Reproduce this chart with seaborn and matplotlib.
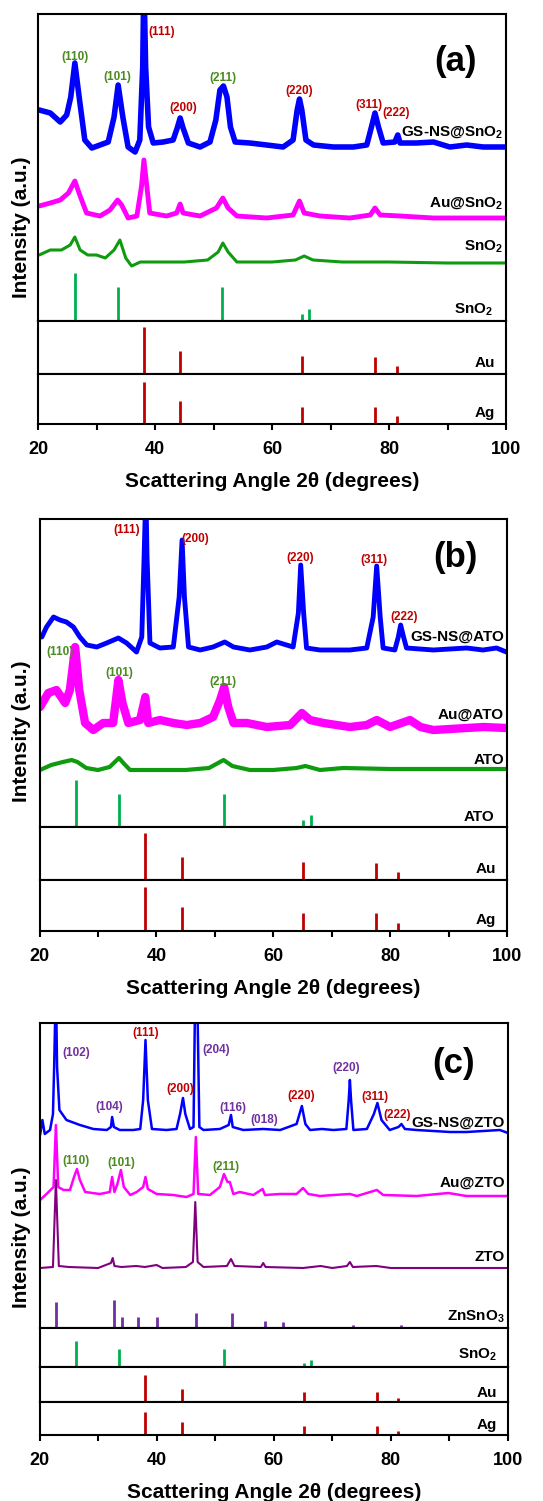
import numpy as np
import pandas as pd
import seaborn as sns
import matplotlib.pyplot as plt

# ---- reference stick patterns (2theta, relative intensity) ----
sno2_pos = [26.3, 33.6, 51.5, 65.1, 66.4]
sno2_int = [100, 70, 70, 15, 26]
au_pos = [38.1, 44.3, 65.1, 77.6, 81.3]
au_int = [100, 50, 38, 37, 16]
ag_pos = [38.1, 44.3, 65.1, 77.6, 81.3]
ag_int = [100, 55, 41, 41, 19]
znsno3_pos = [22.8, 32.7, 34.1, 36.8, 40.1, 46.8, 52.9, 58.5, 61.5, 73.5, 81.8]
znsno3_int = [93, 100, 39, 39, 39, 54, 54, 25, 21, 11, 11]

# ---- panel (a) patterns ----
a_gs_tt = [20.2, 22.1, 23.8, 24.9, 25.6, 26.3, 27.1, 28.0, 29.2, 30.6, 32.0, 33.0, 33.7, 34.5, 35.4,
           36.6, 37.4, 37.9, 38.1, 38.4, 38.9, 39.7, 41.4, 43.1, 43.8, 44.3, 44.8, 45.7, 47.7, 49.4,
           50.4, 51.1, 51.7, 52.3, 52.9, 53.7, 56.2, 59.1, 61.9, 63.6, 64.3, 64.7, 65.1, 65.8, 67.1,
           70.5, 73.9, 76.2, 77.0, 77.6, 78.2, 79.0, 81.0, 81.5, 81.9, 84.7, 87.6, 90.4, 93.3, 96.1, 99.8]
a_gs_I = [37, 34, 25, 32, 50, 84, 47, 7, -1, 2, 5, 30, 62, 30, 0,
          -5, 7, 80, 170, 80, 20, 4, 5, 7, 19, 29, 19, 4, 0, 5,
          27, 57, 61, 50, 20, 5, 4, 2, 0, 7, 37, 48, 37, 7, 2,
          0, 0, 2, 20, 34, 20, 4, 5, 12, 4, 4, 5, 0, 2, 0, 0]
a_au_tt = [20.2, 22.1, 23.8, 25.2, 26.3, 27.2, 28.3, 30.6, 32.3, 33.6, 34.3, 35.4, 36.9, 37.7, 38.1,
           38.6, 39.1, 42.0, 43.7, 44.3, 44.8, 47.7, 50.5, 51.6, 52.5, 54.0, 59.1, 63.6, 64.7, 65.5,
           68.2, 73.3, 76.8, 77.6, 78.5, 81.9, 87.6, 93.3, 99.8]
a_au_I = [12, 15, 18, 25, 37, 22, 5, 2, 8, 18, 13, 0, 2, 32, 58,
          32, 5, 2, 5, 14, 5, 2, 10, 20, 10, 2, 0, 3, 17, 5,
          2, 0, 3, 10, 3, 2, 0, 0, 0]
a_sn_tt = [20.2, 22.1, 24.0, 25.5, 26.3, 27.2, 28.5, 30.0, 31.5, 33.0, 34.0, 35.0, 36.0, 37.5, 40.0,
           45.0, 49.0, 50.8, 51.6, 52.5, 54.0, 60.0, 64.0, 65.5, 67.0, 72.0, 80.0, 90.0, 99.8]
a_sn_I = [7, 12, 12, 17, 25, 12, 7, 7, 4, 12, 22, 4, -4, 0, 0,
          0, 2, 10, 19, 10, 0, 0, 2, 6, 2, 0, 0, -1, -1]

# ---- panel (b) patterns ----
b_gs_tt = [20.4, 21.2, 22.4, 23.5, 24.6, 25.8, 26.9, 28.1, 29.8, 31.5, 33.5, 34.9, 36.6, 37.5, 37.9,
           38.2, 38.4, 38.9, 40.6, 42.9, 43.9, 44.4, 44.8, 45.5, 47.5, 49.7, 51.7, 53.2, 56.0, 58.9,
           60.6, 63.4, 64.3, 64.7, 65.2, 65.7, 68.0, 70.3, 73.1, 76.0, 77.1, 77.7, 78.3, 78.8, 80.8,
           81.4, 81.8, 82.3, 82.8, 87.4, 93.1, 95.9, 98.2, 99.9]
b_gs_I = [13, 23, 33, 30, 28, 23, 13, 5, 3, 7, 12, 7, -2, 13, 93,
          160, 93, 7, 2, 3, 53, 110, 53, 3, 0, 3, 8, 3, 0, 3,
          8, 3, 37, 85, 37, 2, 0, 0, 0, 2, 33, 84, 33, 2, 0,
          13, 25, 13, 2, 0, 2, 0, 2, -2]
b_au_tt = [20.1, 21.5, 22.9, 24.4, 25.2, 26.1, 26.8, 27.8, 29.2, 30.9, 32.6, 33.5, 34.2, 35.2, 37.2,
           38.1, 38.6, 40.6, 42.9, 45.2, 47.5, 49.7, 50.9, 51.6, 52.3, 53.2, 55.5, 58.9, 62.9, 64.9,
           66.3, 68.6, 73.1, 76.0, 77.7, 80.0, 83.4, 85.2, 87.4, 93.1, 96.0, 99.9]
b_au_I = [23, 37, 40, 27, 40, 83, 40, 7, 0, 7, 7, 50, 27, 7, 10,
          33, 7, 10, 7, 5, 7, 13, 30, 43, 23, 7, 7, 3, 5, 17,
          10, 7, 3, 5, 10, 3, 10, 3, 0, 2, 3, 2]
b_ato_tt = [20.1, 22.0, 24.0, 25.5, 26.5, 28.0, 30.0, 32.0, 33.6, 34.5, 35.5, 40.0, 45.0, 49.0, 51.5,
            53.0, 56.0, 60.0, 64.0, 65.5, 68.0, 72.0, 80.0, 90.0, 99.9]
b_ato_I = [-1, 4, 7, 9, 7, 1, -1, 2, 11, 5, -1, -1, -1, 1, 9,
           3, -1, -1, 1, 3, -1, 1, 0, 0, 0]

# ---- panel (c) patterns ----
c_gs_tt = [20.1, 20.5, 20.9, 21.8, 22.3, 22.5, 22.8, 23.0, 23.4, 24.6, 26.9, 29.2, 31.5, 32.2, 32.4,
           32.7, 33.7, 36.0, 37.2, 37.7, 38.1, 38.5, 39.2, 41.7, 43.4, 44.0, 44.5, 44.9, 45.7, 46.3,
           46.6, 46.9, 47.3, 48.0, 50.8, 52.3, 52.7, 53.0, 54.8, 58.2, 61.1, 63.9, 64.8, 65.4, 66.2,
           68.2, 70.2, 72.4, 72.8, 73.0, 73.2, 73.6, 75.9, 77.1, 77.7, 78.4, 79.8, 81.3, 81.8, 82.4,
           84.4, 90.1, 92.9, 95.8, 98.6, 100.0]
c_gs_I = [-3, 12, -2, 2, 18, 65, 150, 65, 22, 12, 7, 3, 2, 5, 15,
          5, 2, 2, 3, 32, 92, 32, 3, 2, 3, 18, 34, 18, 3, 5,
          150, 150, 5, 2, 3, 7, 17, 5, 2, 3, 2, 8, 26, 8, 2,
          3, 2, 3, 32, 52, 32, 2, 3, 18, 29, 12, 2, 5, 8, 3,
          2, 0, 0, 1, 2, -1]
c_au_tt = [20.1, 21.2, 22.4, 22.8, 23.2, 24.1, 25.2, 25.9, 26.4, 26.9, 27.8, 30.3, 32.0, 32.4, 32.8,
           33.3, 33.9, 34.4, 35.5, 36.6, 37.7, 38.1, 38.5, 40.0, 42.8, 45.1, 46.3, 46.7, 47.1, 49.1,
           50.8, 51.5, 52.1, 52.5, 53.1, 54.2, 56.5, 58.1, 58.5, 61.1, 63.9, 65.0, 65.9, 67.9, 70.2,
           73.0, 74.2, 77.6, 78.7, 84.4, 89.8, 92.9, 100.0]
c_au_I = [-3, 3, 10, 72, 10, 7, 7, 20, 28, 17, 5, 3, 5, 20, 5,
          13, 27, 10, 2, 5, 10, 20, 8, 3, 2, 0, 3, 60, 3, 2,
          10, 23, 15, 15, 3, 5, 2, 8, 2, 3, 3, 9, 3, 1, 2,
          3, 1, 7, 2, 1, 4, 1, 1]
c_zto_tt = [20.1, 22.3, 22.8, 23.3, 25.0, 30.0, 32.2, 32.5, 32.8, 34.0, 36.5, 38.0, 40.0, 41.0, 45.0,
            46.2, 46.6, 47.0, 48.0, 52.0, 52.7, 53.3, 57.8, 58.2, 58.6, 65.0, 68.0, 70.0, 72.5, 73.0,
            73.5, 77.5, 80.0, 90.0, 100.0]
c_zto_I = [0, 1, 88, 2, 1, 0, 5, 10, 2, 1, 2, 1, 3, 0, 1,
           6, 66, 6, 1, 2, 9, 2, 1, 5, 1, 0, 2, 0, 2, 6,
           1, 2, 0, 0, 0]

# ---- peak index labels: (text, 2theta, height, colour key) ----
a_hkl = [('(110)', 26.3, 264, 'g'), ('(101)', 33.5, 244, 'g'), ('(111)', 41.2, 289, 'r'),
         ('(200)', 44.8, 213, 'r'), ('(211)', 51.6, 243, 'g'), ('(220)', 64.7, 230, 'r'),
         ('(311)', 76.5, 216, 'r'), ('(222)', 81.3, 208, 'r')]
b_hkl = [('(111)', 35.0, 297, 'r'), ('(200)', 46.6, 288, 'r'), ('(220)', 64.6, 269, 'r'),
         ('(311)', 77.3, 267, 'r'), ('(222)', 82.4, 210, 'r'), ('(110)', 23.5, 175, 'g'),
         ('(101)', 33.6, 154, 'g'), ('(211)', 51.4, 145, 'g')]
c_hkl = [('(102)', 26.2, 275, 'p'), ('(111)', 38.1, 295, 'r'), ('(204)', 50.2, 278, 'p'),
         ('(104)', 31.9, 221, 'p'), ('(200)', 44.0, 239, 'r'), ('(116)', 53.0, 220, 'p'),
         ('(018)', 58.4, 208, 'p'), ('(220)', 64.6, 232, 'r'), ('(220)', 72.3, 260, 'p'),
         ('(311)', 77.3, 231, 'r'), ('(222)', 81.0, 213, 'r'), ('(110)', 26.2, 167, 'g'),
         ('(101)', 34.0, 165, 'g'), ('(211)', 51.9, 161, 'g')]

label_colors = {'r': '#c00000', 'g': '#4b8b1f', 'p': '#7030a0'}
BLUE, PINK, GREEN = '#0000ff', '#ff00ff', '#0f9b0f'
STICK_GREEN, STICK_RED, PURPLE, STICK_PURPLE = '#00b050', '#c00000', '#800080', '#7030a0'

sns.set_theme(style='white')
plt.rcParams['font.family'] = ['Liberation Sans', 'DejaVu Sans']
plt.rcParams['font.weight'] = 'bold'
plt.rcParams['text.color'] = 'black'
plt.rcParams['axes.labelcolor'] = 'black'
plt.rcParams['xtick.color'] = 'black'
plt.rcParams['mathtext.fontset'] = 'custom'
plt.rcParams['mathtext.rm'] = 'Liberation Sans:bold'
plt.rcParams['mathtext.default'] = 'rm'

W, H = 543, 1501
fig = plt.figure(figsize=(W / 100, H / 100), dpi=100)


def make_box(left, right, top, bottom):
    ax = fig.add_axes([left / W, 1 - bottom / H, (right - left) / W, (bottom - top) / H])
    ax.set_xlim(20, 100)
    ax.set_yticks([])
    ax.set_xticks([])
    for s in ax.spines.values():
        s.set_linewidth(1.5)
        s.set_color('black')
    return ax


def trace(ax, tt, inten, offset, color, lw):
    df = pd.DataFrame({'tt': tt, 'I': np.array(inten) + offset})
    sns.lineplot(data=df, x='tt', y='I', ax=ax, color=color, linewidth=lw,
                 sort=False, estimator=None)
    ax.set(xlabel='', ylabel='')


def sticks(ax, pos, inten, scale, color):
    ax.vlines(pos, 0, np.array(inten) * scale, color=color, linewidth=2)


def stick_box(ax, pos, inten, color, ytop, name, ylab):
    sticks(ax, pos, inten, 1.0, color)
    ax.set_ylim(0, ytop)
    ax.text(0.977, ylab, name, transform=ax.transAxes, ha='right', va='center', fontsize=11)


def finish_bottom(ax):
    ax.set_xticks([20, 40, 60, 80, 100])
    ax.set_xticks([30, 50, 70, 90], minor=True)
    ax.tick_params(axis='x', which='both', direction='out', length=4, width=1.5,
                   labelsize=13, pad=8, bottom=True, colors='black')
    ax.set_xlabel('Scattering Angle 2θ (degrees)', fontsize=15, fontweight='bold', labelpad=10)


def hkl_labels(ax, items):
    for txt, x, y, c in items:
        ax.text(x, y, txt, color=label_colors[c], fontsize=8.5, ha='center', va='center')


def name_label(ax, y, txt):
    ax.text(99.5, y, txt, ha='right', va='center', fontsize=11)


# ================= panel (a) =================
ax = make_box(38, 506, 14, 321)
ax.set_ylim(0, 307)
trace(ax, a_gs_tt, a_gs_I, 174, BLUE, 4.0)
trace(ax, a_au_tt, a_au_I, 103, PINK, 3.5)
trace(ax, a_sn_tt, a_sn_I, 59, GREEN, 2.2)
sticks(ax, sno2_pos, sno2_int, 0.48, STICK_GREEN)
hkl_labels(ax, a_hkl)
name_label(ax, 189, 'GS-NS@SnO$_2$')
name_label(ax, 118, 'Au@SnO$_2$')
name_label(ax, 74, 'SnO$_2$')
ax.text(97.8, 11, 'SnO$_2$', ha='right', va='center', fontsize=11)
ax.text(91.3, 259, '(a)', ha='center', va='center', fontsize=25)
ax = make_box(38, 506, 321, 374)
stick_box(ax, au_pos, au_int, STICK_RED, 113, 'Au', 0.2)
ax = make_box(38, 506, 374, 424)
stick_box(ax, ag_pos, ag_int, STICK_RED, 119, 'Ag', 0.22)
finish_bottom(ax)
fig.text(22 / W, 1 - 227 / H, 'Intensity (a.u.)', rotation=90, ha='center', va='center', fontsize=15)

# ================= panel (b) =================
ax = make_box(39.5, 507, 519, 827)
ax.set_ylim(0, 308)
trace(ax, b_gs_tt, b_gs_I, 177, BLUE, 3.5)
trace(ax, b_au_tt, b_au_I, 97, PINK, 6.0)
trace(ax, b_ato_tt, b_ato_I, 58, GREEN, 3.0)
sticks(ax, sno2_pos, sno2_int, 0.47, STICK_GREEN)
hkl_labels(ax, b_hkl)
name_label(ax, 190, 'GS-NS@ATO')
name_label(ax, 112, 'Au@ATO')
name_label(ax, 67, 'ATO')
ax.text(97.8, 10, 'ATO', ha='right', va='center', fontsize=11)
ax.text(91.1, 269, '(b)', ha='center', va='center', fontsize=25)
ax = make_box(39.5, 507, 827, 880)
stick_box(ax, au_pos, au_int, STICK_RED, 113, 'Au', 0.2)
ax = make_box(39.5, 507, 880, 931)
stick_box(ax, ag_pos, ag_int, STICK_RED, 116, 'Ag', 0.22)
finish_bottom(ax)
fig.text(22 / W, 1 - 731 / H, 'Intensity (a.u.)', rotation=90, ha='center', va='center', fontsize=15)

# ================= panel (c) =================
ax = make_box(39.5, 508, 1023, 1328)
ax.set_ylim(0, 305)
trace(ax, c_gs_tt, c_gs_I, 196, BLUE, 1.8)
trace(ax, c_au_tt, c_au_I, 131, PINK, 1.8)
trace(ax, c_zto_tt, c_zto_I, 60, PURPLE, 1.5)
sticks(ax, znsno3_pos, znsno3_int, 0.28, STICK_PURPLE)
hkl_labels(ax, c_hkl)
name_label(ax, 205, 'GS-NS@ZTO')
name_label(ax, 145, 'Au@ZTO')
name_label(ax, 71, 'ZTO')
ax.text(99.5, 11, 'ZnSnO$_3$', ha='right', va='center', fontsize=11)
ax.text(90.7, 265, '(c)', ha='center', va='center', fontsize=25)
ax = make_box(39.5, 508, 1328, 1367)
stick_box(ax, sno2_pos, sno2_int, STICK_GREEN, 150, 'SnO$_2$', 0.31)
ax = make_box(39.5, 508, 1367, 1402)
stick_box(ax, au_pos, au_int, STICK_RED, 130, 'Au', 0.26)
ax = make_box(39.5, 508, 1402, 1435)
stick_box(ax, ag_pos, ag_int, STICK_RED, 143, 'Ag', 0.3)
finish_bottom(ax)
fig.text(22 / W, 1 - 1237 / H, 'Intensity (a.u.)', rotation=90, ha='center', va='center', fontsize=15)

fig.savefig('out.png', dpi=100, facecolor='white')
